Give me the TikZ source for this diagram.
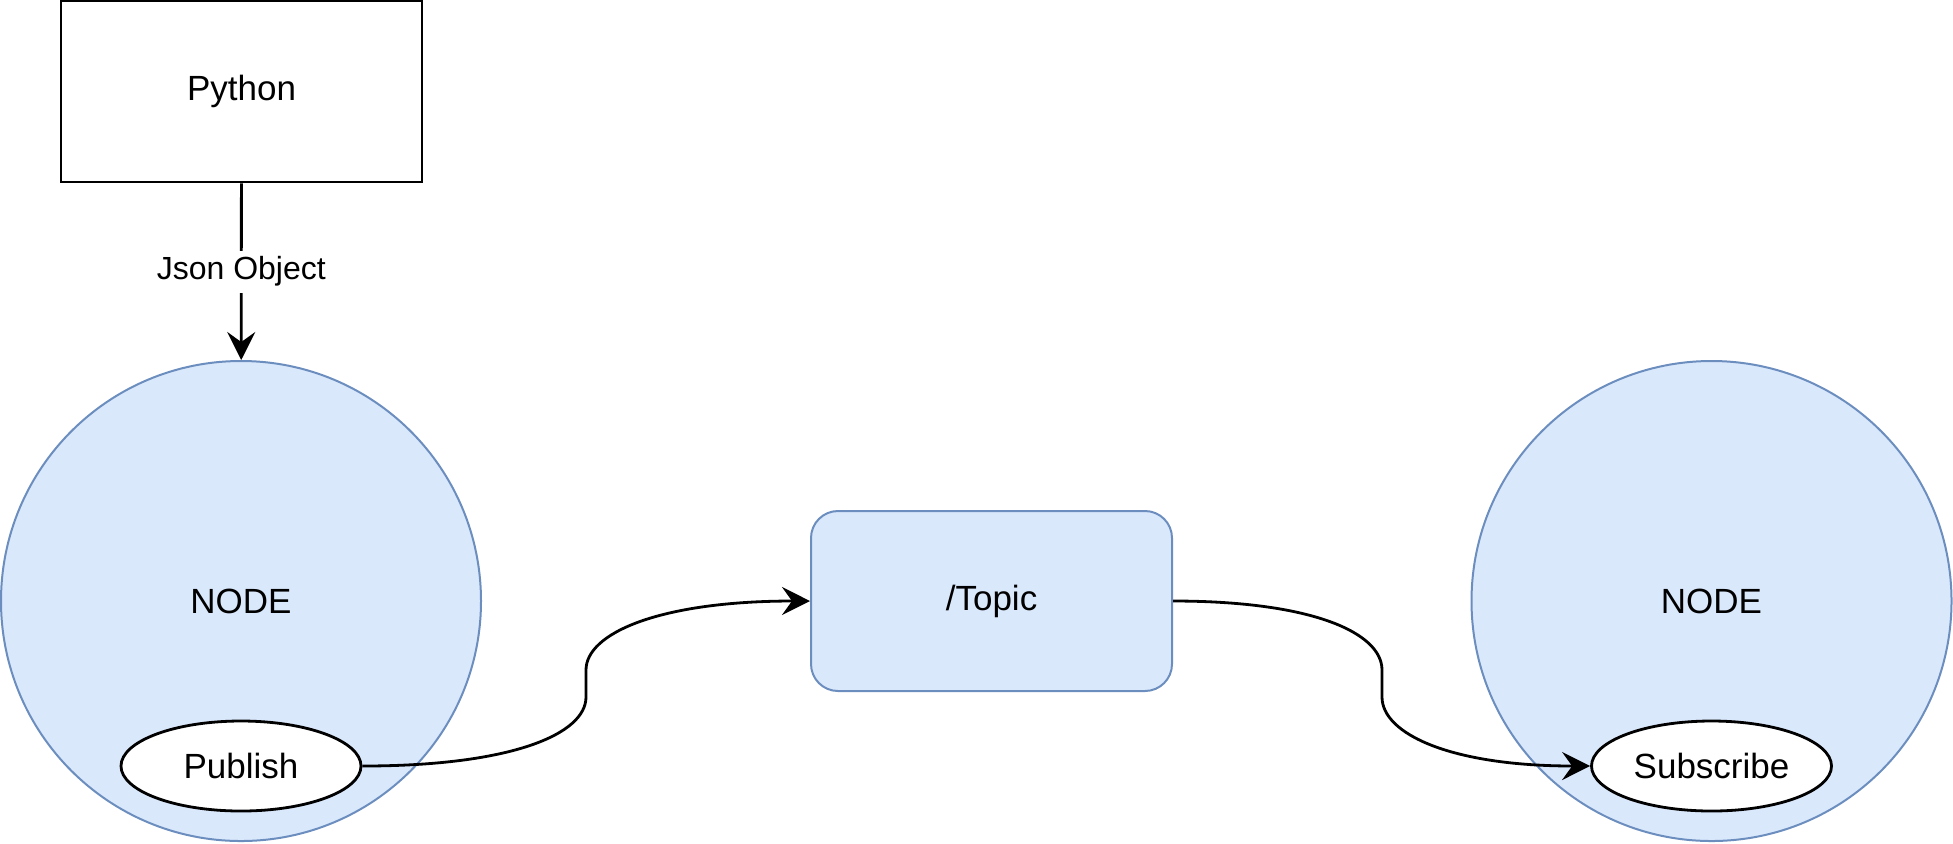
\documentclass[tikz,border=0pt]{standalone}
\usepackage{fontspec}
\setmainfont{Liberation Sans}
\usepackage{tikz}
\usetikzlibrary{arrows.meta,shapes.geometric,positioning}

\definecolor{nodefill}{HTML}{DAE8FC}
\definecolor{nodeline}{HTML}{6C8EBF}

\begin{document}
\begin{tikzpicture}[x=0.5pt,y=-0.5pt,
		rosnode/.style={circle,draw=nodeline,fill=nodefill,line width=1pt,minimum size=240pt,inner sep=0pt,font=\fontsize{17.5}{20}\selectfont},
		topicbox/.style={rectangle,rounded corners=13.5pt,draw=nodeline,fill=nodefill,line width=1pt,minimum width=180.5pt,minimum height=90pt,inner sep=0pt,font=\fontsize{17.5}{20}\selectfont},
		pybox/.style={rectangle,draw=black,fill=white,line width=1.4pt,minimum width=180.5pt,minimum height=90.5pt,inner sep=0pt,font=\fontsize{17.5}{20}\selectfont},
		port/.style={ellipse,draw=black,fill=white,line width=1.4pt,minimum width=120pt,minimum height=45pt,inner sep=0pt,font=\fontsize{17.5}{20}\selectfont},
		link/.style={draw=black,line width=1.4pt,-{Stealth[length=14pt,width=14pt,inset=5pt]}}]
		\useasboundingbox (0,0) rectangle (1953,843);
		
		\node[pybox] (python) at (241.5,91.5) {Python};
		
		\node[rosnode] (pubnode) at (241,601) {NODE};
		\node[port] (publish) at (241,766) {Publish};
		
		\node[topicbox] (topic) at (991.5,601) {/Topic};
		
		\node[rosnode] (subnode) at (1711.5,601) {NODE};
		\node[port] (subscribe) at (1711.5,766) {Subscribe};
		
		\draw[link] (python) -- node[fill=white,inner sep=3pt,font=\fontsize{16}{18}\selectfont]{Json Object} (pubnode);
		
		% publish -> topic -> subscribe
		\draw[link] (publish.east) .. controls (512,766) and (586,734) .. (586,697) -- (586,670) .. controls (586,633) and (660,601) .. (topic.west);
		\draw[link] (topic.east) .. controls (1313,601) and (1382,633) .. (1382,670) -- (1382,697) .. controls (1382,734) and (1451,766) .. (subscribe.west);
		
	\end{tikzpicture}
\end{document}
